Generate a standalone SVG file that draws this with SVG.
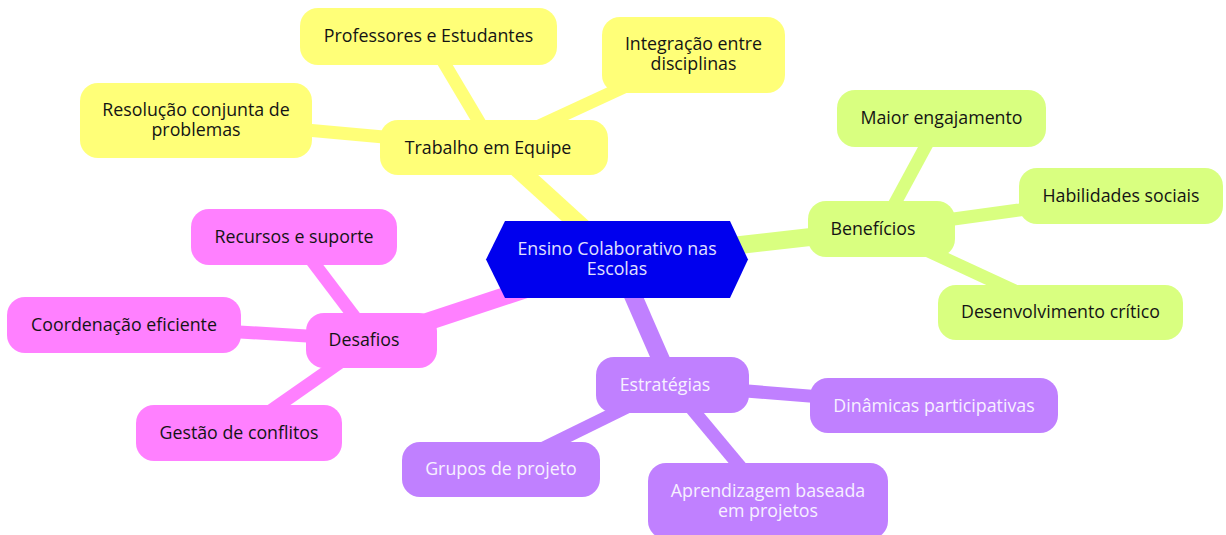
<svg xmlns="http://www.w3.org/2000/svg" width="1226" height="535" viewBox="0 0 1226 535">
<style>
text{font-family:"Open Sans","Noto Sans","Liberation Sans",sans-serif;font-size:17.8px;text-anchor:middle;fill:#141414}
.e{fill:none;stroke-linecap:butt}
.m{stroke-width:18}
.l{stroke-width:13}
.y{fill:#ffff78}.ys{stroke:#ffff78}
.g{fill:#d9ff80}.gs{stroke:#d9ff80}
.p{fill:#ff80ff}.ps{stroke:#ff80ff}
.v{fill:#c080ff}.vs{stroke:#c080ff}
text.w{fill:#f7f0ff}
text.c{fill:#e0e0ff}
</style>
<rect width="1226" height="535" fill="#ffffff"/>
<g id="connectors">
<line class="e m ys" x1="617" y1="259" x2="494" y2="147"/>
<line class="e m gs" x1="617" y1="259" x2="881" y2="229"/>
<line class="e m ps" x1="617" y1="259" x2="372" y2="340"/>
<line class="e m vs" x1="617" y1="259" x2="672" y2="385"/>
<line class="e l ys" x1="494" y1="147" x2="428" y2="36"/>
<line class="e l ys" x1="494" y1="147" x2="693" y2="55"/>
<line class="e l ys" x1="494" y1="147" x2="196" y2="120"/>
<line class="e l gs" x1="881" y1="229" x2="941" y2="118"/>
<line class="e l gs" x1="881" y1="229" x2="1121" y2="196"/>
<line class="e l gs" x1="881" y1="229" x2="1060" y2="312"/>
<line class="e l ps" x1="372" y1="340" x2="294" y2="237"/>
<line class="e l ps" x1="372" y1="340" x2="124" y2="325"/>
<line class="e l ps" x1="372" y1="340" x2="239" y2="433"/>
<line class="e l vs" x1="672" y1="385" x2="934" y2="406"/>
<line class="e l vs" x1="672" y1="385" x2="501" y2="469"/>
<line class="e l vs" x1="672" y1="385" x2="768" y2="500"/>
</g>
<g id="root">
<polygon points="505,221 730,221 748,259.5 730,298 505,298 486,259.5" fill="#0000ee"/>
<text class="c" x="617" y="255"><tspan x="617">Ensino Colaborativo nas</tspan><tspan x="617" dy="20">Escolas</tspan></text>
</g>
<g id="trabalho">
<rect class="y" x="380" y="120" width="228" height="55" rx="18"/>
<text x="488" y="154">Trabalho em Equipe</text>
</g>
<g id="professores">
<rect class="y" x="300" y="8" width="257" height="57" rx="18"/>
<text x="428.5" y="42">Professores e Estudantes</text>
</g>
<g id="integracao">
<rect class="y" x="602" y="17" width="183" height="76" rx="18"/>
<text x="693.5" y="50"><tspan x="693.5">Integração entre</tspan><tspan x="693.5" dy="20">disciplinas</tspan></text>
</g>
<g id="resolucao">
<rect class="y" x="80" y="83" width="232" height="75" rx="18"/>
<text x="196" y="116"><tspan x="196">Resolução conjunta de</tspan><tspan x="196" dy="20">problemas</tspan></text>
</g>
<g id="beneficios">
<rect class="g" x="808" y="201" width="147" height="56" rx="18"/>
<text x="873" y="235">Benefícios</text>
</g>
<g id="maior">
<rect class="g" x="837" y="90" width="209" height="57" rx="18"/>
<text x="941.5" y="124">Maior engajamento</text>
</g>
<g id="habilidades">
<rect class="g" x="1019" y="168" width="204" height="56" rx="18"/>
<text x="1121" y="202">Habilidades sociais</text>
</g>
<g id="desenvolvimento">
<rect class="g" x="938" y="285" width="245" height="55" rx="18"/>
<text x="1060.5" y="318">Desenvolvimento crítico</text>
</g>
<g id="desafios">
<rect class="p" x="306" y="313" width="131" height="55" rx="18"/>
<text x="364" y="346">Desafios</text>
</g>
<g id="recursos">
<rect class="p" x="191" y="209" width="206" height="56" rx="18"/>
<text x="294" y="243">Recursos e suporte</text>
</g>
<g id="coordenacao">
<rect class="p" x="7" y="297" width="234" height="56" rx="18"/>
<text x="124" y="331">Coordenação eficiente</text>
</g>
<g id="gestao">
<rect class="p" x="136" y="405" width="206" height="56" rx="18"/>
<text x="239" y="439">Gestão de conflitos</text>
</g>
<g id="estrategias">
<rect class="v" x="596" y="357" width="153" height="56" rx="18"/>
<text class="w" x="665" y="391">Estratégias</text>
</g>
<g id="dinamicas">
<rect class="v" x="810" y="378" width="248" height="55" rx="18"/>
<text class="w" x="934" y="412">Dinâmicas participativas</text>
</g>
<g id="grupos">
<rect class="v" x="402" y="442" width="198" height="55" rx="18"/>
<text class="w" x="501" y="475">Grupos de projeto</text>
</g>
<g id="aprendizagem">
<rect class="v" x="648" y="463" width="240" height="76" rx="18"/>
<text class="w" x="768" y="497"><tspan x="768">Aprendizagem baseada</tspan><tspan x="768" dy="20">em projetos</tspan></text>
</g>
</svg>
